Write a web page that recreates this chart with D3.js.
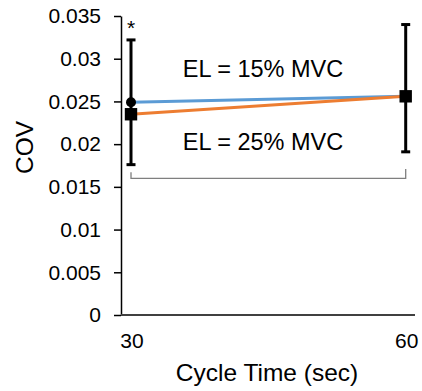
<!DOCTYPE html>
<html>
<head>
<meta charset="utf-8">
<script src="https://cdn.jsdelivr.net/npm/d3@7"></script>
<style>
  body { margin: 0; background: #fff; }
  svg { display: block; font-family: "Liberation Sans", Arial, sans-serif; }
</style>
</head>
<body>
<svg id="chart" width="422" height="391"></svg>
<script>
// ---- data ----
const cycleTimes = [30, 60];
const xTickLabels = ["30", "60"];
const yTicks = [0, 0.005, 0.01, 0.015, 0.02, 0.025, 0.03, 0.035];
const yTickLabels = ["0", "0.005", "0.01", "0.015", "0.02", "0.025", "0.03", "0.035"];
const el15 = [0.0249, 0.0256];     // blue, circle at 30
const el25 = [0.0235, 0.0256];     // orange, square markers
const errLow = [0.0176, 0.0191];   // error bar lower ends
const errHigh = [0.0322, 0.0340];  // error bar upper ends
const labels = ["EL = 15% MVC", "EL = 25% MVC"];
const bracketY = 0.0160;
const bracketEnds = [0.0167, 0.0171];

// ---- layout ----
const svg = d3.select("#chart");
const x = d3.scaleLinear().domain([30, 60]).range([131, 405.7]);
const y = d3.scaleLinear().domain([0, 0.035]).range([315, 16]);
const axisX = 121;

// y axis
const yAxis = d3.axisLeft(y).tickValues(yTicks)
  .tickFormat((d, i) => yTickLabels[i]).tickSize(7).tickSizeOuter(0).tickPadding(13);
const gy = svg.append("g").attr("transform", `translate(${axisX},0)`).call(yAxis);
gy.select(".domain").attr("stroke", "#000").attr("stroke-width", 1.5);
gy.selectAll(".tick line").attr("stroke", "#000").attr("stroke-width", 1.5);
gy.selectAll(".tick text").attr("font-size", 21).attr("fill", "#000")
  .attr("font-family", "Liberation Sans, Arial, sans-serif");

// x axis line
svg.append("line").attr("x1", axisX).attr("x2", 415)
  .attr("y1", y(0)).attr("y2", y(0))
  .attr("stroke", "#404040").attr("stroke-width", 2);

// x tick labels
svg.selectAll(".xlab").data(cycleTimes).enter().append("text")
  .attr("x", d => x(d) + 1).attr("y", 348)
  .attr("text-anchor", "middle").attr("font-size", 21).attr("fill", "#000")
  .text((d, i) => xTickLabels[i]);

// axis titles
svg.append("text").attr("x", 267).attr("y", 381).attr("text-anchor", "middle")
  .attr("font-size", 24.5).attr("fill", "#000")
  .text("Cycle Time (sec)");
svg.append("text").attr("transform", "translate(33,147.5) rotate(-90)")
  .attr("text-anchor", "middle").attr("font-size", 24.5).attr("fill", "#000")
  .text("COV");

// bracket
svg.append("path")
  .attr("d", `M${x(30)},${y(bracketEnds[0])}V${y(bracketY)}H${x(60)}V${y(bracketEnds[1])}`)
  .attr("fill", "none").attr("stroke", "#7f7f7f").attr("stroke-width", 1.3);

// lines
const line = d3.line().x((d, i) => x(cycleTimes[i])).y(d => y(d));
svg.append("path").datum(el15).attr("d", line)
  .attr("fill", "none").attr("stroke", "#5B9BD5").attr("stroke-width", 3);
svg.append("path").datum(el25).attr("d", line)
  .attr("fill", "none").attr("stroke", "#ED7D31").attr("stroke-width", 3);

// error bars
cycleTimes.forEach((c, i) => {
  const g = svg.append("g");
  g.append("line").attr("x1", x(c)).attr("x2", x(c))
    .attr("y1", y(errLow[i])).attr("y2", y(errHigh[i]))
    .attr("stroke", "#000").attr("stroke-width", 3);
  [errLow[i], errHigh[i]].forEach(v => {
    g.append("line").attr("x1", x(c) - 4.5).attr("x2", x(c) + 4.5)
      .attr("y1", y(v)).attr("y2", y(v))
      .attr("stroke", "#000").attr("stroke-width", 3);
  });
});

// markers
svg.append("circle").attr("cx", x(30)).attr("cy", y(el15[0])).attr("r", 5).attr("fill", "#000");
svg.selectAll(".sq").data(el25).enter().append("rect")
  .attr("x", (d, i) => x(cycleTimes[i]) - 6.2).attr("y", d => y(d) - 6.2)
  .attr("width", 12.4).attr("height", 12.4).attr("fill", "#000");

// asterisk
svg.append("text").attr("x", x(30)).attr("y", 35).attr("text-anchor", "middle")
  .attr("font-size", 21).attr("fill", "#000").text("*");

// labels
svg.append("text").attr("x", 263).attr("y", 77).attr("text-anchor", "middle")
  .attr("font-size", 23.5).attr("fill", "#000").text(labels[0]);
svg.append("text").attr("x", 263).attr("y", 150).attr("text-anchor", "middle")
  .attr("font-size", 23.5).attr("fill", "#000").text(labels[1]);
</script>
</body>
</html>
